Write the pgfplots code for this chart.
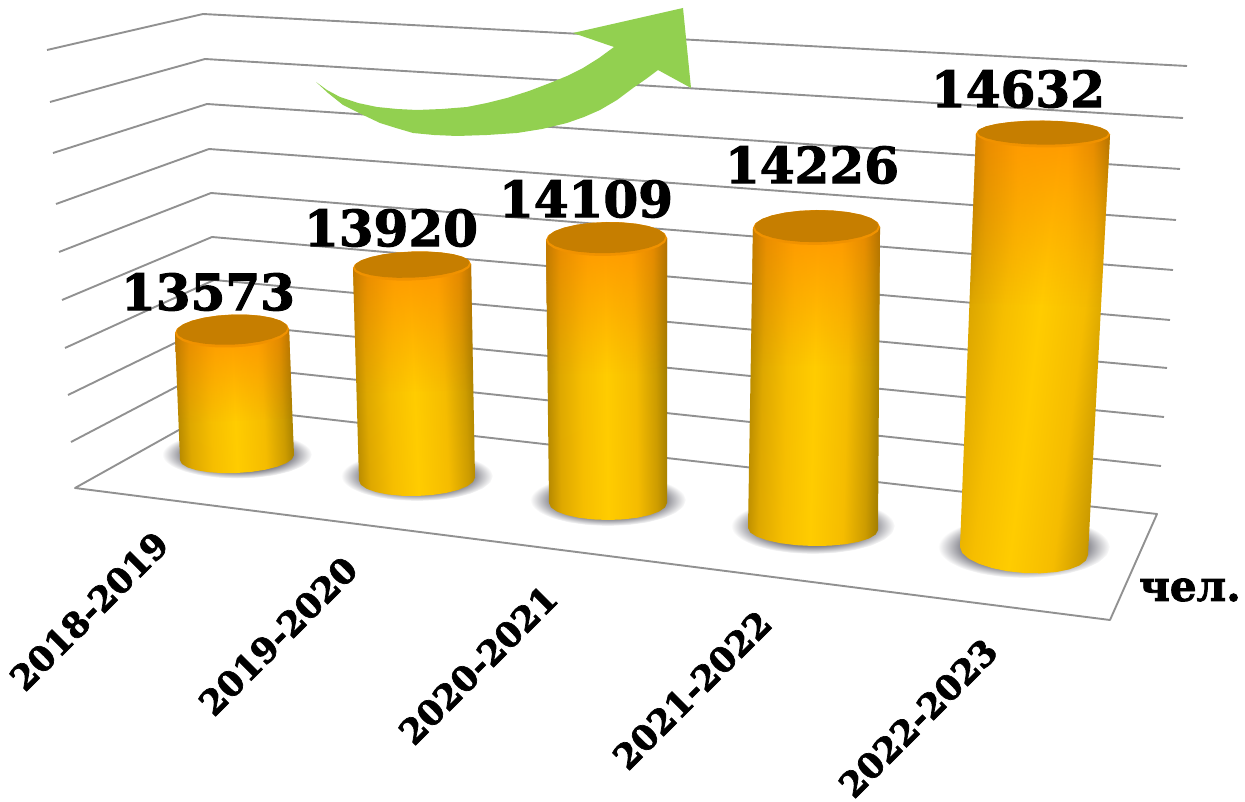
\documentclass[border=0pt]{standalone}
\usepackage{pgfplots}
\pgfplotsset{compat=1.18}
\usepackage{pgfplotstable}
\usepackage{fontspec}
\setmainfont{DejaVu Serif}[BoldFeatures={FakeBold=2}]
\usetikzlibrary{fadings}
\definecolor{arrowgreen}{HTML}{92D050}
\definecolor{gridgray}{HTML}{919191}
\definecolor{shadowgray}{HTML}{84848C}
\definecolor{caprim}{HTML}{F09200}
\definecolor{captop}{HTML}{C67E00}
\definecolor{ya}{HTML}{B08400}
\definecolor{yb}{HTML}{DEA800}
\definecolor{yc}{HTML}{F6BE00}
\definecolor{yd}{HTML}{FFCC00}
\definecolor{ye}{HTML}{F5BC00}
\definecolor{yf}{HTML}{CD9C00}
\definecolor{yg}{HTML}{A07C00}
\definecolor{oa}{HTML}{C47A00}
\definecolor{ob}{HTML}{EB8C00}
\definecolor{oc}{HTML}{FF9900}
\definecolor{od}{HTML}{E88A00}
\definecolor{oe}{HTML}{B47200}
\pgfdeclarehorizontalshading{cylbody}{100bp}{
  color(0bp)=(ya);
  color(25bp)=(ya);
  color(31bp)=(yb);
  color(40bp)=(yc);
  color(50bp)=(yd);
  color(62bp)=(ye);
  color(70bp)=(yf);
  color(75bp)=(yg);
  color(100bp)=(yg)}
\pgfdeclarehorizontalshading{cylorange}{100bp}{
  color(0bp)=(oa);
  color(25bp)=(oa);
  color(31bp)=(ob);
  color(42bp)=(oc);
  color(60bp)=(oc);
  color(69bp)=(od);
  color(75bp)=(oe);
  color(100bp)=(oe)}
\pgfdeclareradialshading{shadowrad}{\pgfpoint{0bp}{0bp}}{
  color(0bp)=(shadowgray); color(18bp)=(shadowgray);
  color(25bp)=(white); color(50bp)=(white)}
\tikzfading[name=fadedown, top color=transparent!0, bottom color=transparent!100]

\pgfplotstableread{
c s
1 0
0.966 0.259
0.866 0.5
0.707 0.707
0.5 0.866
0.259 0.966
0 1
-0.259 0.966
-0.5 0.866
-0.707 0.707
-0.866 0.5
-0.966 0.259
-1 0
-0.966 -0.259
-0.866 -0.5
-0.707 -0.707
-0.5 -0.866
-0.259 -0.966
0 -1
0.259 -0.966
0.5 -0.866
0.707 -0.707
0.866 -0.5
0.966 -0.259
}\unitcircle
\pgfplotstableread{
t c s
0 -1 0
0 1 0
1 1 0
1 0.966 0.259
1 0.866 0.5
1 0.707 0.707
1 0.5 0.866
1 0.259 0.966
1 0 1
1 -0.259 0.966
1 -0.5 0.866
1 -0.707 0.707
1 -0.866 0.5
1 -0.966 0.259
1 -1 0
}\unitbody

\newcommand{\cyl}[9]{\def\Ca{#1}\def\Cb{#2}\def\Cc{#3}\def\Cd{#4}\def\Ce{#5}\def\Cf{#6}\def\Cg{#7}\def\Ch{#8}\def\Ci{#9}\cylg}
% #1 base depth, #2 orange fraction, #3 shadow a, #4 shadow b, #5 shadow y shift, #6 lean angle
\newcommand{\cylg}[6]{%
  \addplot[draw=none, shading=shadowrad] table[x expr={\Cf+#3*\thisrow{c}}, y expr={\Cg+#5+#4*\thisrow{s}}] {\unitcircle} -- cycle;
  \addplot[draw=none, shading=cylbody, shading angle=#6] table[
    x expr={(1-\thisrow{t})*(\Ca+\Cc*\thisrow{c})+\thisrow{t}*(\Cf+\Ch*\thisrow{c})},
    y expr={(1-\thisrow{t})*(\Cb+\Cd*\thisrow{c})+\thisrow{t}*(\Cg+\Ci*\thisrow{c}+#1*\thisrow{s})}] {\unitbody} -- cycle;
  \addplot[draw=none, shading=cylorange, path fading=fadedown] table[
    x expr={(1-#2*\thisrow{t})*(\Ca+\Cc*\thisrow{c})+#2*\thisrow{t}*(\Cf+\Ch*\thisrow{c})},
    y expr={(1-#2*\thisrow{t})*(\Cb+\Cd*\thisrow{c})+#2*\thisrow{t}*(\Cg+\Ci*\thisrow{c})}] {\unitbody} -- cycle;
  \addplot[draw=none, fill=caprim] table[x expr={\Ca+\Cc*\thisrow{c}}, y expr={\Cb+\Cd*\thisrow{c}+\Ce*\thisrow{s}}] {\unitcircle} -- cycle;
  \addplot[draw=none, fill=captop] table[x expr={\Ca+(\Cc-1.5)*\thisrow{c}}, y expr={\Cb-1.3+\Cd*\thisrow{c}+(\Ce-1.5)*\thisrow{s}}] {\unitcircle} -- cycle;
}

\begin{document}
\begin{tikzpicture}
\useasboundingbox (0pt,0pt) rectangle (1245pt,802pt);
\begin{axis}[
  at={(0pt,0pt)}, anchor=south west,
  width=1245pt, height=802pt, scale only axis,
  xmin=0, xmax=1245, ymin=0, ymax=802, y dir=reverse,
  hide axis, clip=false,
  gridl/.style={draw=gridgray, line width=1.9pt, no markers, line join=round},
]
% walls
\addplot[gridl] coordinates {(47,50)(203,14)(1187,66)};
\addplot[gridl] coordinates {(50,102)(205,59)(1183,118)};
\addplot[gridl] coordinates {(53,153)(207,104)(1180,169)};
\addplot[gridl] coordinates {(56,204)(209,149)(1176,220)};
\addplot[gridl] coordinates {(59,252)(211,193)(1173,270)};
\addplot[gridl] coordinates {(62,300)(212,237)(1170,320)};
\addplot[gridl] coordinates {(65,348)(214,280)(1167,368)};
\addplot[gridl] coordinates {(68,395)(216,323)(1164,417)};
\addplot[gridl] coordinates {(71,442)(218,365)(1161,466)};
% floor
\addplot[gridl] coordinates {(220,407)(75,488)(1110,620)(1157,514)(220,407)};

% cylinders
\cyl{232}{331}{57}{-2}{16.5}{237}{457.5}{57}{-2.5}{15.5}{0.71}{75}{24}{-3}{2.4}
\cyl{412}{266}{59}{-2}{14.5}{417}{479}{58}{-1.5}{17}{0.59}{76}{25}{-3}{2.4}
\cyl{606.5}{239}{60.5}{-1}{17}{608}{503}{59}{0}{17}{0.51}{78}{26}{-3}{0.7}
\cyl{816.5}{227.5}{63.5}{-0.5}{17.5}{813}{529}{65}{1}{17}{0.46}{82}{28}{-3}{-1.5}
\cyl{1043}{134}{67}{0.5}{13.5}{1024}{551}{64}{4}{22}{0.41}{86}{31}{-4}{-7}

% arrow
\addplot[draw=none, fill=arrowgreen] coordinates {
(316,82)(327,90)(340,97)(358,103)(377,107)(397,109)(417,110)(442,109)(467,107)(487,103)(507,98)(529,91)(550,83)(567,76)(583,68)(599,58)(614,47)
(573,33)(683,8)(691,88)(658,70)
(646,79)(633,88)(617,100)(600,110)(584,117)(567,123)(542,129)(517,133)(487,135)(457,136)(434,135)(413,133)(396,128)(380,123)(361,114)(343,105)(328,93)
} -- cycle;

% labels
\node[font=\fontsize{50}{50}\selectfont\bfseries] at (axis cs:208,292) {13573};
\node[font=\fontsize{50}{50}\selectfont\bfseries] at (axis cs:391,228) {13920};
\node[font=\fontsize{50}{50}\selectfont\bfseries] at (axis cs:586,199) {14109};
\node[font=\fontsize{50}{50}\selectfont\bfseries] at (axis cs:812,165) {14226};
\node[font=\fontsize{50}{50}\selectfont\bfseries] at (axis cs:1018,89) {14632};
\node[font=\fontsize{42}{42}\selectfont\bfseries] at (axis cs:1190,590) {чел.};
\node[font=\fontsize{34.5}{35}\selectfont\bfseries, rotate=45] at (axis cs:89,611) {2018-2019};
\node[font=\fontsize{34.5}{35}\selectfont\bfseries, rotate=45] at (axis cs:278,636) {2019-2020};
\node[font=\fontsize{34.5}{35}\selectfont\bfseries, rotate=45] at (axis cs:478,665) {2020-2021};
\node[font=\fontsize{34.5}{35}\selectfont\bfseries, rotate=45] at (axis cs:692,690) {2021-2022};
\node[font=\fontsize{34.5}{35}\selectfont\bfseries, rotate=45] at (axis cs:918,718) {2022-2023};
\end{axis}
\end{tikzpicture}
\end{document}
